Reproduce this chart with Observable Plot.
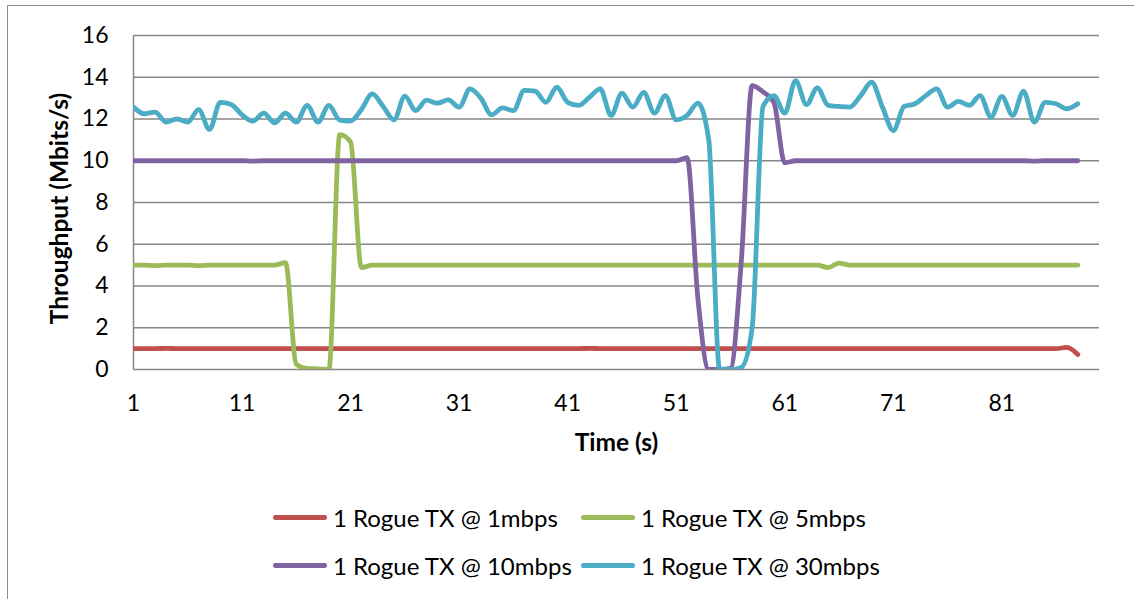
<!DOCTYPE html>
<html>
<head>
<meta charset="utf-8">
<script src="https://cdn.jsdelivr.net/npm/d3@7"></script>
<script src="https://cdn.jsdelivr.net/npm/@observablehq/plot@0.6"></script>
<style>
  body { margin: 0; background: #fff; font-family: Lato, "Open Sans", sans-serif; }
  #wrap { position: relative; width: 1134px; height: 599px; overflow: hidden; background: #fff; }
  #frame { position: absolute; left: 7px; top: 5px; width: 1200px; height: 700px; border-left: 1.5px solid #8c8c8c; border-top: 1.5px solid #8c8c8c; }
  #chart { position: absolute; left: 0; top: 0; }
  .leg { position: absolute; display: flex; align-items: center; font-size: 24px; color: #000; white-space: nowrap; }
  .sw { width: 54px; height: 5px; border-radius: 3px; margin-right: 6px; }
</style>
</head>
<body>
<div id="wrap">
  <div id="frame"></div>
  <div id="chart"></div>
  <div id="legend"></div>
</div>
<script>
// ---- data ----
const seriesNames = ["1 Rogue TX @ 1mbps", "1 Rogue TX @ 5mbps", "1 Rogue TX @ 10mbps", "1 Rogue TX @ 30mbps"];
const seriesColors = ["#C0504D", "#9BBB59", "#8064A2", "#4BACC6"];
const xTicks = [1, 11, 21, 31, 41, 51, 61, 71, 81];
const yTicks = [0, 2, 4, 6, 8, 10, 12, 14, 16];

const rogue1 = [
  1.0, 1.0, 1.0, 1.01, 1.0, 1.0, 1.0, 1.0, 1.0, 1.0,
  1.0, 1.0, 1.0, 1.0, 1.0, 1.0, 1.0, 1.0, 1.0, 1.0,
  1.0, 1.0, 1.0, 1.0, 1.0, 1.0, 1.0, 1.0, 1.0, 1.0,
  1.0, 1.0, 1.0, 1.0, 1.0, 1.0, 1.0, 1.0, 1.0, 1.0,
  1.0, 1.0, 1.01, 1.0, 1.0, 1.0, 1.0, 1.0, 1.0, 1.0,
  1.0, 1.0, 1.0, 1.0, 1.0, 1.0, 1.0, 1.0, 1.0, 1.0,
  1.0, 1.0, 1.0, 1.0, 1.0, 1.0, 1.0, 1.0, 1.0, 1.0,
  1.0, 1.0, 1.0, 1.0, 1.0, 1.0, 1.0, 1.0, 1.0, 1.0,
  1.0, 1.0, 1.0, 1.0, 1.0, 1.0, 1.06, 0.72
];
const rogue5 = [
  5.0, 5.0, 4.98, 5.0, 5.0, 5.0, 4.98, 5.0, 5.0, 5.0,
  5.0, 5.0, 5.0, 5.0, 5.12, 0.25, 0.05, 0.03, 0.0, 11.25,
  10.9, 4.88, 5.0, 5.0, 5.0, 5.0, 5.0, 5.0, 5.0, 5.0,
  5.0, 5.0, 5.0, 5.0, 5.0, 5.0, 5.0, 5.0, 5.0, 5.0,
  5.0, 5.0, 5.0, 5.0, 5.0, 5.0, 5.0, 5.0, 5.0, 5.0,
  5.0, 5.0, 5.0, 5.0, 5.0, 5.0, 5.0, 5.0, 5.0, 5.0,
  5.0, 5.0, 5.0, 5.0, 4.88, 5.1, 5.0, 5.0, 5.0, 5.0,
  5.0, 5.0, 5.0, 5.0, 5.0, 5.0, 5.0, 5.0, 5.0, 5.0,
  5.0, 5.0, 5.0, 5.0, 5.0, 5.0, 5.0, 5.0
];
const rogue10 = [
  10.0, 10.0, 10.0, 10.0, 10.0, 10.0, 10.0, 10.0, 10.0, 10.0,
  10.0, 9.98, 10.0, 10.0, 10.0, 10.0, 10.0, 10.0, 10.0, 10.0,
  10.0, 10.0, 10.0, 10.0, 10.0, 10.0, 10.0, 10.0, 10.0, 10.0,
  10.0, 10.0, 10.0, 10.0, 10.0, 10.0, 10.0, 10.0, 10.0, 10.0,
  10.0, 10.0, 10.0, 10.0, 10.0, 10.0, 10.0, 10.0, 10.0, 10.0,
  10.0, 10.15, 3.4, 0.0, 0.0, 0.05, 5.2, 13.6, 13.3, 12.8,
  9.9, 10.0, 10.0, 10.0, 10.0, 10.0, 10.0, 10.0, 10.0, 10.0,
  10.0, 10.0, 10.0, 10.0, 10.0, 10.0, 10.0, 10.0, 10.0, 10.0,
  10.0, 10.0, 10.0, 9.98, 10.0, 10.0, 10.0, 10.0
];
const rogue30 = [
  12.57, 12.25, 12.33, 11.85, 12.0, 11.85, 12.45, 11.5, 12.8, 12.7,
  12.2, 11.9, 12.28, 11.82, 12.28, 11.85, 12.65, 11.85, 12.65, 11.95,
  11.9, 12.45, 13.2, 12.6, 11.96, 13.1, 12.4, 12.9, 12.76, 12.92,
  12.57, 13.44, 13.0, 12.2, 12.53, 12.4, 13.37, 13.33, 12.8, 13.52,
  12.8, 12.65, 13.04, 13.44, 12.17, 13.24, 12.57, 13.28, 12.28, 13.12,
  11.96, 12.17, 12.76, 11.0, 0.0, 0.0, 0.1, 2.0, 12.6, 13.12,
  12.28, 13.84, 12.69, 13.49, 12.65, 12.6, 12.57, 13.12, 13.76, 12.57,
  11.45, 12.6, 12.73, 13.12, 13.44, 12.57, 12.84, 12.65, 13.12, 12.09,
  13.08, 12.17, 13.33, 11.85, 12.8, 12.73, 12.49, 12.73
];
const seriesValues = [rogue1, rogue5, rogue10, rogue30];
const xDomain = [1, 90];

// ---- build table ----
const rows = [];
seriesValues.forEach((vals, s) => vals.forEach((v, i) => rows.push({series: seriesNames[s], t: i + 1, v})));

const FONT = "Lato, 'Open Sans', sans-serif";
const chart = Plot.plot({
  width: 1134,
  height: 460,
  marginLeft: 133,
  marginRight: 35,
  marginTop: 35,
  marginBottom: 91,
  style: {fontFamily: FONT, fontSize: "23px", color: "#000", background: "transparent", overflow: "visible"},
  x: {domain: xDomain},
  y: {domain: [0, 16]},
  color: {domain: seriesNames, range: seriesColors},
  marks: [
    Plot.gridY(yTicks, {stroke: "#878787", strokeOpacity: 1, strokeWidth: 1.5}),
    Plot.ruleX([xDomain[0]], {stroke: "#878787", strokeWidth: 1.5}),
    Plot.axisY(yTicks, {tickSize: 0, tickPadding: 25, label: null, fontSize: 23}),
    Plot.axisX(xTicks, {tickSize: 0, tickPadding: 25, label: null, fontSize: 23}),
    Plot.line(rows, {x: "t", y: "v", z: "series", stroke: "series", strokeWidth: 4.8,
      curve: "monotone-x", strokeLinecap: "round", strokeLinejoin: "round", clip: true}),
    Plot.text(["Time (s)"], {frameAnchor: "bottom", dy: 74, lineAnchor: "middle", textAnchor: "middle", fontWeight: "bold", fontSize: 24.5}),
    Plot.text(["Throughput (Mbits/s)"], {frameAnchor: "left", dx: -73, dy: 6, rotate: -90, textAnchor: "middle", lineAnchor: "middle", fontWeight: "bold", fontSize: 24.5})
  ]
});
document.getElementById("chart").appendChild(chart);

// ---- legend ----
const legPos = [[273, 517], [581, 517], [273, 565], [581, 565]];
const legend = document.getElementById("legend");
seriesNames.forEach((name, i) => {
  const d = document.createElement("div");
  d.className = "leg";
  d.style.left = legPos[i][0] + "px";
  d.style.top = (legPos[i][1] - 15) + "px";
  d.style.height = "30px";
  const sw = document.createElement("div");
  sw.className = "sw";
  sw.style.background = seriesColors[i];
  d.appendChild(sw);
  const t = document.createElement("span");
  t.textContent = name;
  d.appendChild(t);
  legend.appendChild(d);
});
</script>
</body>
</html>
